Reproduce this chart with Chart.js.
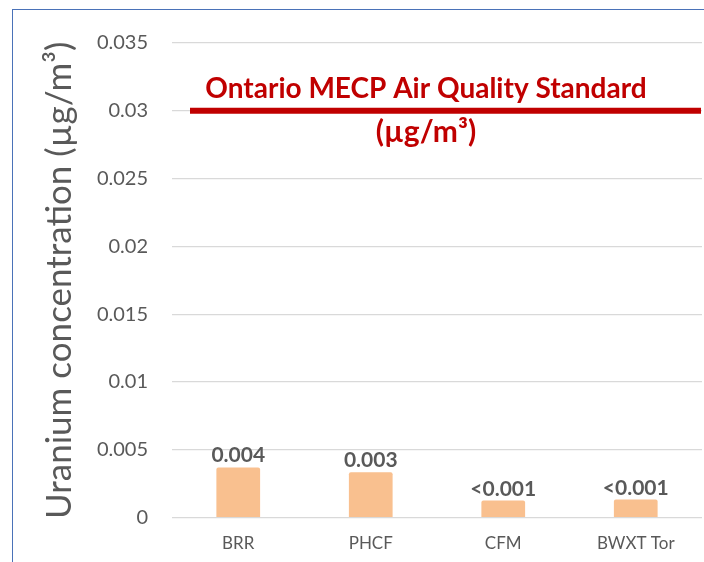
<!DOCTYPE html>
<html>
<head>
<meta charset="utf-8">
<script src="https://cdn.jsdelivr.net/npm/chart.js@4"></script>
<style>
  html, body { margin: 0; padding: 0; background: #ffffff; }
  #wrap { position: relative; width: 704px; height: 562px; overflow: hidden; }
  #frame { position: absolute; left: 12px; top: 9px; width: 760px; height: 620px;
           border-left: 1.5px solid #4A72B8; border-top: 1.5px solid #4A72B8; box-sizing: border-box; }
  canvas { position: absolute; left: 0; top: 0; }
</style>
</head>
<body>
<div id="wrap">
  <div id="frame"></div>
  <canvas id="c" width="704" height="562"></canvas>
</div>
<script>
const categories = ['BRR', 'PHCF', 'CFM', 'BWXT Tor'];
const concentrations = [0.0037, 0.00335, 0.00126, 0.00133];
const valueLabels = ['0.004', '0.003', '<0.001', '<0.001'];
const standardValue = 0.03;
const standardLabel = ['Ontario MECP Air Quality Standard', '(µg/m³)'];
const yAxisTitle = 'Uranium concentration (µg/m³)';

const FONT = 'Lato, "Open Sans", sans-serif';
const GREY = '#595959';

const annotations = {
  id: 'annotations',
  afterDatasetsDraw(chart) {
    const { ctx, chartArea, scales } = chart;
    const y = scales.y.getPixelForValue(standardValue);
    ctx.save();
    ctx.strokeStyle = '#C00000';
    ctx.lineWidth = 6;
    ctx.beginPath();
    ctx.moveTo(chartArea.left + 18, y);
    ctx.lineTo(chartArea.right - 1, y);
    ctx.stroke();
    ctx.fillStyle = '#C00000';
    ctx.font = 'bold 28px ' + FONT;
    ctx.textAlign = 'center';
    ctx.textBaseline = 'middle';
    const cx = chartArea.left + 254;
    ctx.fillText(standardLabel[0], cx, y - 22);
    ctx.font = 'bold 30px ' + FONT;
    ctx.fillText(standardLabel[1], cx, y + 22);
    // value labels
    const meta = chart.getDatasetMeta(0);
    ctx.fillStyle = GREY;
    ctx.font = 'bold 21px ' + FONT;
    ctx.textBaseline = 'alphabetic';
    meta.data.forEach((bar, i) => {
      ctx.fillText(valueLabels[i], bar.x, bar.y - 5);
    });
    ctx.restore();
  }
};

new Chart(document.getElementById('c'), {
  type: 'bar',
  data: {
    labels: categories,
    datasets: [{
      data: concentrations,
      backgroundColor: '#F9C08F',
      borderRadius: 2,
      borderSkipped: 'bottom',
      categoryPercentage: 1,
      barPercentage: 0.33
    }]
  },
  options: {
    responsive: false,
    animation: false,
    devicePixelRatio: 1,
    layout: { padding: { left: 39, right: 2, top: 43, bottom: -8 } },
    plugins: { legend: { display: false }, tooltip: { enabled: false } },
    scales: {
      x: {
        grid: { display: false, drawTicks: false },
        border: { display: false },
        ticks: { color: GREY, font: { family: FONT, size: 17 }, padding: 16 }
      },
      y: {
        min: 0, max: 0.035,
        afterFit: s => { s.width = 133; },
        grid: { color: '#D9D9D9', lineWidth: 1.3, drawTicks: false },
        border: { display: false },
        ticks: {
          stepSize: 0.005, color: GREY, padding: 24,
          font: { family: FONT, size: 20 },
          callback: v => String(+v.toFixed(3))
        },
        title: {
          display: true, text: yAxisTitle, color: GREY,
          font: { family: FONT, size: 35 }, padding: { top: 0, bottom: 4 }
        }
      }
    }
  },
  plugins: [annotations]
});
</script>
</body>
</html>
